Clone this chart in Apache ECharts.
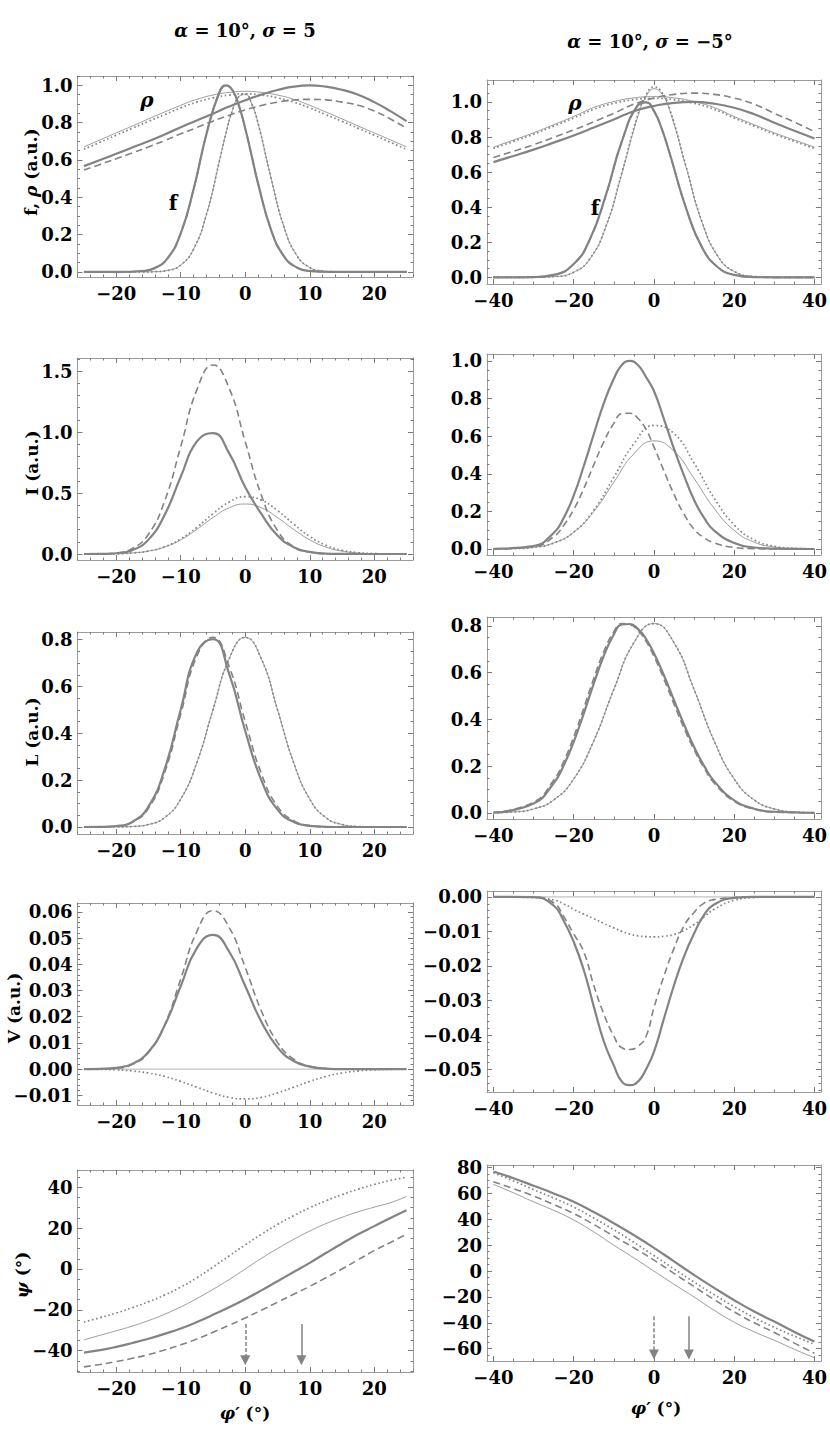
<!DOCTYPE html>
<html>
<head>
<meta charset="utf-8">
<script src="https://cdn.jsdelivr.net/npm/echarts@6/dist/echarts.min.js"></script>
<style>
html, body { margin: 0; padding: 0; background: #fff; }
#chart { width: 830px; height: 1435px; }
</style>
</head>
<body>
<div id="chart"></div>
<script>
// sample positions (phi', degrees)
var xL = [-25,-22.5,-20,-17.5,-15,-12.5,-10,-7.5,-5,-2.5,0,2.5,5,7.5,10,12.5,15,17.5,20,22.5,25];
var xR = [-40,-35,-30,-25,-20,-15,-10,-5,0,5,10,15,20,25,30,35,40];
var xLf = [-25,-20,-16,-14,-12,-10,-8,-6,-4,-3,-2,-1,0,1,2,4,6,8,10,12,14,18,25];
var xRf = [-40,-30,-25,-20,-16,-12,-8,-4,-2,0,2,4,8,12,16,20,25,30,40];
var xRv = [-40,-30,-25,-22.5,-20,-17.5,-15,-12.5,-10,-8,-6,-4,-2,0,2.5,5,7.5,10,12.5,15,20,25,30,40];

// row 1 : f and rho
var fL_a = [0,0,0.005,0.021,0.075,0.207,0.444,0.741,0.963,1.0,0.975,0.893,0.769,0.622,0.472,0.226,0.084,0.024,0.0055,0.001,0,0,0];
var fL_b = [0,0,0,0.0014,0.0083,0.037,0.123,0.31,0.595,0.742,0.864,0.939,0.952,0.90,0.795,0.503,0.242,0.088,0.024,0.005,0.001,0,0];
var rhoL_solid = [0.567,0.60,0.633,0.667,0.70,0.737,0.775,0.812,0.848,0.886,0.92,0.95,0.975,0.993,1.0,0.993,0.976,0.95,0.91,0.862,0.808];
var rhoL_dashed = [0.546,0.576,0.607,0.638,0.67,0.704,0.74,0.774,0.808,0.84,0.868,0.892,0.91,0.921,0.925,0.922,0.91,0.893,0.862,0.82,0.77];
var rhoL_thin = [0.67,0.708,0.745,0.782,0.82,0.857,0.893,0.925,0.948,0.962,0.968,0.962,0.948,0.925,0.893,0.857,0.82,0.782,0.745,0.708,0.67];
var rhoL_dotted = [0.657,0.695,0.733,0.77,0.807,0.843,0.879,0.91,0.933,0.948,0.955,0.948,0.933,0.91,0.879,0.843,0.807,0.77,0.733,0.695,0.657];

var fR_a = [0,0.0017,0.014,0.076,0.215,0.467,0.775,0.981,0.998,0.949,0.843,0.70,0.395,0.17,0.056,0.014,0.0017,0,0];
var fR_thin = [0,0.0003,0.004,0.029,0.104,0.286,0.591,0.919,1.03,1.075,1.044,0.946,0.627,0.312,0.117,0.033,0.0045,0.0004,0];
var fR_dotted = [0,0.0003,0.004,0.029,0.105,0.289,0.597,0.928,1.039,1.085,1.054,0.955,0.633,0.315,0.118,0.034,0.0046,0.0004,0];
var rhoR_solid = [0.657,0.692,0.728,0.768,0.809,0.854,0.90,0.947,0.977,0.995,1.0,0.99,0.967,0.93,0.881,0.836,0.792];
var rhoR_dashed = [0.683,0.719,0.756,0.798,0.84,0.887,0.935,0.987,1.022,1.043,1.05,1.043,1.022,0.987,0.935,0.885,0.83];
var rhoR_thin = [0.742,0.783,0.824,0.87,0.917,0.968,1.002,1.023,1.03,1.023,1.002,0.968,0.917,0.87,0.824,0.783,0.742];
var rhoR_dotted = [0.735,0.775,0.816,0.862,0.908,0.958,0.992,1.013,1.02,1.013,0.992,0.958,0.908,0.862,0.816,0.775,0.735];

// row 2 : I
var IL_solid = [0,0.0009,0.0064,0.032,0.118,0.32,0.633,0.923,0.991,0.827,0.548,0.329,0.151,0.056,0.017,0.004,0.001,0,0,0,0];
var IL_dashed = [0,0.0015,0.0095,0.045,0.162,0.434,0.88,1.346,1.55,1.36,0.92,0.481,0.193,0.06,0.014,0.0026,0.0003,0,0,0,0];
var IL_dotted = [0.0001,0.0007,0.0026,0.0087,0.0246,0.06,0.124,0.219,0.33,0.426,0.47,0.442,0.356,0.245,0.144,0.072,0.031,0.0113,0.0035,0.001,0.0002];
var IL_thin = [0.0002,0.0007,0.0027,0.0086,0.024,0.057,0.116,0.202,0.299,0.379,0.41,0.379,0.299,0.202,0.116,0.057,0.024,0.0086,0.0027,0.0007,0.0002];
var IR_solid = [0.001,0.016,0.085,0.165,0.284,0.44,0.61,0.775,0.905,0.978,1.0,0.978,0.915,0.84,0.69,0.532,0.39,0.26,0.165,0.098,0.032,0.008,0.002,0];
var IR_dashed = [0.0003,0.012,0.065,0.125,0.21,0.32,0.447,0.57,0.668,0.72,0.722,0.695,0.637,0.543,0.415,0.29,0.185,0.105,0.06,0.033,0.008,0.0015,0,0];
var IR_dotted = [0.0003,0.0018,0.0084,0.031,0.089,0.206,0.381,0.56,0.657,0.614,0.457,0.271,0.128,0.048,0.0146,0.0035,0.0007];
var IR_thin = [0.0002,0.002,0.009,0.032,0.089,0.199,0.355,0.506,0.575,0.52,0.375,0.216,0.099,0.036,0.0105,0.0025,0.0005];

// row 3 : L
var LL_solid = [0,0.0005,0.0041,0.022,0.087,0.246,0.502,0.745,0.802,0.655,0.41,0.2,0.074,0.0215,0.0048,0.0008,0,0,0,0,0];
var LL_dashed = [0,0.0004,0.0035,0.02,0.08,0.232,0.482,0.73,0.81,0.685,0.45,0.228,0.088,0.027,0.006,0.001,0,0,0,0,0];
var LL_thin = [0,0,0.0004,0.0022,0.0107,0.040,0.119,0.275,0.501,0.718,0.81,0.718,0.501,0.275,0.119,0.040,0.0107,0.0022,0.0004,0,0];
var LR_solid = [0.0017,0.04,0.127,0.203,0.304,0.425,0.553,0.672,0.763,0.806,0.808,0.787,0.745,0.683,0.588,0.482,0.378,0.282,0.201,0.136,0.054,0.018,0.005,0.0002];
var LR_dashed = [0.002,0.046,0.14,0.22,0.325,0.448,0.575,0.69,0.775,0.81,0.806,0.78,0.735,0.67,0.572,0.465,0.362,0.27,0.192,0.128,0.05,0.016,0.004,0];
var LR_thin = [0.0008,0.0042,0.017,0.055,0.145,0.308,0.528,0.728,0.81,0.728,0.528,0.308,0.145,0.055,0.017,0.0042,0.0008];

// row 4 : V
var VL_solid = [0,0.0001,0.00047,0.002,0.0066,0.0166,0.0317,0.0462,0.0512,0.0449,0.0317,0.0181,0.0083,0.0031,0.00094,0.0002,0,0,0,0,0];
var VL_dashed = [0,0.0001,0.00037,0.0018,0.0063,0.0169,0.0344,0.0525,0.0605,0.0541,0.0388,0.0222,0.0102,0.0038,0.0011,0.0003,0,0,0,0,0];
var VL_dotted = [0,-0.0001,-0.0003,-0.0007,-0.0015,-0.0028,-0.0047,-0.0069,-0.0091,-0.0108,-0.0114,-0.0108,-0.0091,-0.0069,-0.0047,-0.0028,-0.0015,-0.0007,-0.0003,-0.0001,0];
var VL_thin = [0,0,0,0,0,0,0,0,0,0,0,0,0,0,0,0,0,0,0,0,0];
var VR_solid = [0,-0.0001,-0.0025,-0.0069,-0.013,-0.0211,-0.0317,-0.0418,-0.0488,-0.0535,-0.0545,-0.0535,-0.05,-0.0449,-0.0352,-0.0256,-0.0172,-0.0106,-0.0052,-0.0022,-0.0003,0,0,0];
var VR_dashed = [0,-0.0001,-0.0017,-0.0057,-0.0107,-0.0159,-0.0256,-0.0339,-0.0403,-0.0437,-0.0442,-0.0433,-0.0405,-0.0321,-0.0229,-0.0149,-0.0084,-0.0045,-0.0018,-0.0008,-0.0002,0,0,0];
var VR_dotted = [0,-0.0002,-0.0009,-0.002,-0.0036,-0.005,-0.0063,-0.0077,-0.009,-0.01,-0.0108,-0.0113,-0.0115,-0.0116,-0.0114,-0.0109,-0.0097,-0.008,-0.0058,-0.0036,-0.001,-0.0002,0,0];
var VR_thin = [0,0,0,0,0,0,0,0,0,0,0,0,0,0,0,0,0];

// row 5 : psi
var psiL_solid = [-41,-39.8,-38.2,-36.3,-34.2,-31.8,-29.2,-26,-22.5,-18.8,-14.8,-10.5,-6,-1.5,3,7.8,12.5,17,21,25,28.8];
var psiL_dashed = [-48,-46.8,-45.4,-43.8,-42,-39.7,-37.2,-34.3,-31,-27.6,-24,-20.2,-16.3,-12.4,-8.5,-4.3,0,4.5,9,13,17];
var psiL_dotted = [-26,-23.9,-21.6,-19,-16.1,-12.8,-8.9,-4.3,0.9,6.4,11.8,17,21.8,26.1,30,33.4,36.4,39.1,41.4,43.4,45];
var psiL_thin = [-34.8,-32.5,-30.3,-28,-25.3,-22.2,-18.6,-14.5,-10,-5.2,0,5.2,10,14.5,18.6,22.2,25.3,28,30.3,32.5,35.5];
var psiR_solid = [77,71.8,66,60,53.5,45.6,37,27.8,18,7.5,-3,-13,-22.5,-31.3,-39,-47,-54.5];
var psiR_dotted = [76,69.7,63,56.5,49.5,41,32,22.2,12,1.7,-8.5,-18.2,-27.5,-36,-43.5,-50.3,-56.5];
var psiR_dashed = [69,63.7,58,51.5,44.5,36,27,18,8.5,-1.8,-12,-22,-31.5,-40,-47.5,-55.7,-63.5];
var psiR_thin = [67,60.5,53.5,47,39.5,30.3,20,10.2,0,-10.2,-20,-30.3,-39.5,-47,-53.5,-60.5,-67];

// arrows marking phi' of the inflection points (start, end of shaft)
var arrowX = [0, 8.7];
var arrowL_y = [-27, -44.8];
var arrowR_y = [-35, -64.5];

var GRAY = '#838383';
var FRAME = '#9a9a9a';
var FONT = 'DejaVu Serif';

var STYLES = {
  thick: { color: GRAY, width: 2.2 },
  dash: { color: GRAY, width: 1.6, type: [7, 4] },
  dot: { color: GRAY, width: 1.7, type: [1.6, 2.6] },
  thin: { color: GRAY, width: 0.8 },
  zero: { color: '#c4c4c4', width: 1.2 }
};

function minus(s) { return s.replace('-', '\u2212'); }
function fmtInt(v) { return minus(String(Math.round(v))); }
function fmt1(v) { return minus(v.toFixed(1)); }
function fmt2(v) { return minus(v.toFixed(2)); }

function ticks(a, b, step) {
  var out = [];
  for (var k = Math.ceil(a / step - 1e-9); k * step <= b + 1e-9; k++) {
    out.push(+(k * step).toFixed(6));
  }
  return out;
}

var panels = [
  { box: [77.5, 76, 335.5, 201], x: [-26, 26, 10, 2], y: [-0.027, 1.05, 0.2, 0.05], yf: fmt1, lines: [
    [xL, rhoL_thin, 'thin'], [xL, rhoL_dotted, 'dot'], [xL, rhoL_dashed, 'dash'], [xL, rhoL_solid, 'thick'],
    [xLf, fL_b, 'thin'], [xLf, fL_b, 'dot'], [xLf, fL_a, 'dash'], [xLf, fL_a, 'thick']] },
  { box: [487, 80, 337, 204], x: [-41.6, 41.6, 20, 5], y: [-0.038, 1.125, 0.2, 0.05], yf: fmt1, lines: [
    [xR, rhoR_thin, 'thin'], [xR, rhoR_dotted, 'dot'], [xR, rhoR_dashed, 'dash'], [xR, rhoR_solid, 'thick'],
    [xRf, fR_thin, 'thin'], [xRf, fR_dotted, 'dot'], [xRf, fR_a, 'dash'], [xRf, fR_a, 'thick']] },
  { box: [77.5, 358, 335.5, 202], x: [-26, 26, 10, 2], y: [-0.049, 1.607, 0.5, 0.1], yf: fmt1, lines: [
    [xL, IL_thin, 'thin'], [xL, IL_dotted, 'dot'], [xL, IL_dashed, 'dash'], [xL, IL_solid, 'thick']] },
  { box: [487, 354, 337, 201], x: [-41.6, 41.6, 20, 5], y: [-0.032, 1.037, 0.2, 0.05], yf: fmt1, lines: [
    [xR, IR_thin, 'thin'], [xR, IR_dotted, 'dot'], [xRv, IR_dashed, 'dash'], [xRv, IR_solid, 'thick']] },
  { box: [77.5, 632, 335.5, 202], x: [-26, 26, 10, 2], y: [-0.030, 0.833, 0.2, 0.05], yf: fmt1, lines: [
    [xL, LL_thin, 'thin'], [xL, LL_thin, 'dot'], [xL, LL_dashed, 'dash'], [xL, LL_solid, 'thick']] },
  { box: [487, 617, 337, 202], x: [-41.6, 41.6, 20, 5], y: [-0.026, 0.838, 0.2, 0.05], yf: fmt1, lines: [
    [xR, LR_thin, 'thin'], [xR, LR_thin, 'dot'], [xRv, LR_dashed, 'dash'], [xRv, LR_solid, 'thick']] },
  { box: [77.5, 903, 335.5, 202], x: [-26, 26, 10, 2], y: [-0.0137, 0.0634, 0.01, 0.002], yf: fmt2, lines: [
    [xL, VL_thin, 'zero'], [xL, VL_dotted, 'dot'], [xL, VL_dashed, 'dash'], [xL, VL_solid, 'thick']] },
  { box: [487, 891, 337, 201], x: [-41.6, 41.6, 20, 5], y: [-0.0565, 0.0017, 0.01, 0.002], yf: fmt2, lines: [
    [xR, VR_thin, 'zero'], [xRv, VR_dotted, 'dot'], [xRv, VR_dashed, 'dash'], [xRv, VR_solid, 'thick']] },
  { box: [77.5, 1170, 335.5, 202], x: [-26, 26, 10, 2], y: [-50.5, 48.5, 20, 5], yf: fmtInt, arrows: arrowL_y, lines: [
    [xL, psiL_thin, 'thin'], [xL, psiL_dotted, 'dot'], [xL, psiL_dashed, 'dash'], [xL, psiL_solid, 'thick']] },
  { box: [487, 1165, 337, 196], x: [-41.6, 41.6, 20, 5], y: [-69.5, 82, 20, 5], yf: fmtInt, arrows: arrowR_y, lines: [
    [xR, psiR_thin, 'thin'], [xR, psiR_dotted, 'dot'], [xR, psiR_dashed, 'dash'], [xR, psiR_solid, 'thick']] }
];

var grids = [], xAxes = [], yAxes = [], series = [];

function makeAxis(gi, pos, range, vals, len, fmt, showLine) {
  return {
    type: 'value', gridIndex: gi, position: pos, min: range[0], max: range[1],
    axisLine: { show: showLine, onZero: false, lineStyle: { color: FRAME, width: 1 } },
    axisTick: { show: true, inside: true, length: len, customValues: vals, lineStyle: { color: '#7a7a7a', width: 1 } },
    axisLabel: fmt ? {
      show: true, customValues: vals, formatter: fmt, color: '#000',
      fontFamily: FONT, fontWeight: 'bold', fontSize: 18, margin: (pos === 'bottom' ? 7 : 5)
    } : { show: false },
    splitLine: { show: false }
  };
}

panels.forEach(function (p) {
  var gi = grids.length;
  grids.push({ left: p.box[0], top: p.box[1], width: p.box[2], height: p.box[3] });
  var xMaj = ticks(p.x[0], p.x[1], p.x[2]), xMin = ticks(p.x[0], p.x[1], p.x[3]);
  var yMaj = ticks(p.y[0], p.y[1], p.y[2]), yMin = ticks(p.y[0], p.y[1], p.y[3]);
  var xi = xAxes.length, yi = yAxes.length;
  xAxes.push(makeAxis(gi, 'bottom', p.x, xMaj, 5, fmtInt, true));
  xAxes.push(makeAxis(gi, 'bottom', p.x, xMin, 2.5, null, false));
  xAxes.push(makeAxis(gi, 'top', p.x, xMaj, 5, null, true));
  xAxes.push(makeAxis(gi, 'top', p.x, xMin, 2.5, null, false));
  yAxes.push(makeAxis(gi, 'left', p.y, yMaj, 5, p.yf, true));
  yAxes.push(makeAxis(gi, 'left', p.y, yMin, 2.5, null, false));
  yAxes.push(makeAxis(gi, 'right', p.y, yMaj, 5, null, true));
  yAxes.push(makeAxis(gi, 'right', p.y, yMin, 2.5, null, false));

  p.lines.forEach(function (ln, k) {
    series.push({
      type: 'line', xAxisIndex: xi, yAxisIndex: yi,
      data: ln[0].map(function (x, i) { return [x, ln[1][i]]; }),
      showSymbol: false, symbol: 'none', smooth: 0.5,
      clip: true, silent: true, animation: false,
      lineStyle: STYLES[ln[2]], itemStyle: { color: GRAY }, z: 2 + k
    });
  });

  if (p.arrows) {
    series.push({
      type: 'line', xAxisIndex: xi, yAxisIndex: yi, data: [], silent: true, animation: false,
      itemStyle: { color: GRAY },
      markLine: {
        silent: true, animation: false, symbol: ['none', 'triangle'], symbolSize: 10,
        label: { show: false },
        itemStyle: { color: GRAY },
        lineStyle: { color: GRAY, width: 1.5, type: 'solid' },
        data: arrowX.map(function (ax, k) {
          return [
            { coord: [ax, p.arrows[0]], lineStyle: { color: GRAY, width: 1.5, type: k === 0 ? [4, 2] : 'solid' } },
            { coord: [ax, p.arrows[1]] }
          ];
        })
      }
    });
  }
});

function txt(x, y, text, size, rot) {
  return {
    type: 'text', x: x, y: y, rotation: rot || 0, silent: true,
    style: {
      text: text, fill: '#000', fontFamily: FONT, fontWeight: 'bold', fontSize: size,
      align: 'center', verticalAlign: 'middle',
      rich: { i: { fontFamily: FONT, fontWeight: 'bold', fontStyle: 'italic', fontSize: size, fill: '#000' } }
    }
  };
}

var graphics = [
  txt(245, 30, '{i|\u03b1} = 10\u00b0, {i|\u03c3} = 5', 18),
  txt(650, 41, '{i|\u03b1} = 10\u00b0, {i|\u03c3} = \u22125\u00b0', 18),
  txt(31, 172, 'f, {i|\u03c1} (a.u.)', 17, Math.PI / 2),
  txt(32, 463, 'I (a.u.)', 17, Math.PI / 2),
  txt(32, 732, 'L (a.u.)', 17, Math.PI / 2),
  txt(14, 1008, 'V (a.u.)', 17, Math.PI / 2),
  txt(22, 1275, '{i|\u03c8} (\u00b0)', 17, Math.PI / 2),
  txt(245, 1413, '{i|\u03c6\u2032} (\u00b0)', 17),
  txt(656, 1408, '{i|\u03c6\u2032} (\u00b0)', 17),
  txt(147, 100, '{i|\u03c1}', 20),
  txt(173, 203, 'f', 20),
  txt(575, 103, '{i|\u03c1}', 20),
  txt(595, 208, 'f', 20)
];

var chart = echarts.init(document.getElementById('chart'), null, { renderer: 'svg' });
chart.setOption({
  animation: false,
  backgroundColor: '#fff',
  grid: grids,
  xAxis: xAxes,
  yAxis: yAxes,
  series: series,
  graphic: graphics
});
</script>
</body>
</html>
